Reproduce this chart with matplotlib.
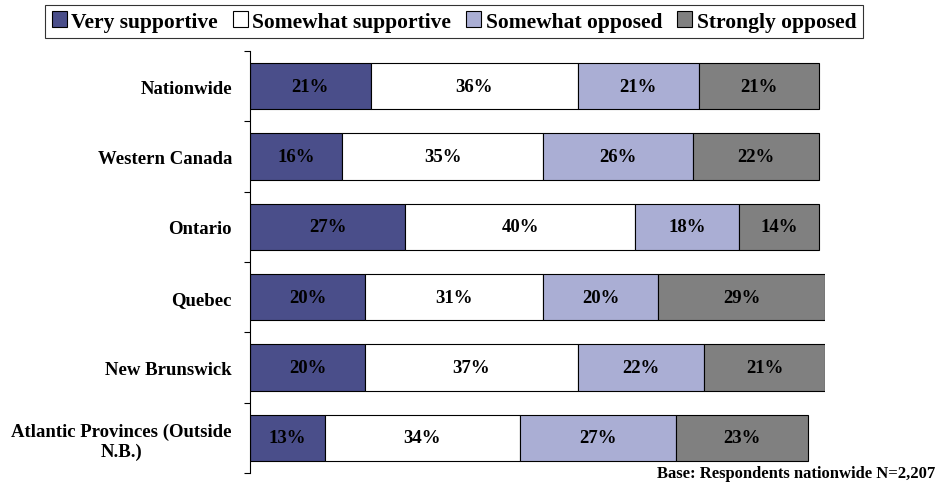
import matplotlib.pyplot as plt
import numpy as np

# regions, top to bottom
regions = ['Nationwide', 'Western Canada', 'Ontario', 'Quebec', 'New Brunswick',
           'Atlantic Provinces (Outside\nN.B.)']
series = ['Very supportive', 'Somewhat supportive', 'Somewhat opposed', 'Strongly opposed']
very_sup = [21, 16, 27, 20, 20, 13]
some_sup = [36, 35, 40, 31, 37, 34]
some_opp = [21, 26, 18, 20, 22, 27]
strong_opp = [21, 22, 14, 29, 21, 23]
colors = ['#4a4e8a', '#ffffff', '#aaaed4', '#808080']

plt.rcParams['font.family'] = ['Liberation Serif', 'DejaVu Serif']
plt.rcParams['font.weight'] = 'bold'

fig = plt.figure(figsize=(9.37, 4.85), dpi=100)
ax = fig.add_axes([250 / 937, 1 - 474 / 485, 575 / 937, 422 / 485])

y = np.arange(len(regions))
left = np.zeros(len(regions))
for name, vals, c in zip(series, [very_sup, some_sup, some_opp, strong_opp], colors):
    vals = np.array(vals)
    ax.barh(y, vals, left=left, height=0.66, color=c, edgecolor='black',
            linewidth=0.8, label=name)
    for yi, l, v in zip(y, left, vals):
        ax.text(l + v / 2, yi, f'{v}%', ha='center', va='center', fontsize=13.5,
                fontweight='bold', color='black')
    left += vals

ax.set_xlim(0, 100)
ax.set_ylim(len(regions) - 0.5, -0.5)
ax.set_xticks([])
ax.set_yticks(y)
ax.set_yticklabels(regions, fontsize=13.5, fontweight='bold', ha='right',
                   multialignment='center')
ax.tick_params(axis='y', which='major', length=0, pad=13)
ax.set_yticks(np.arange(-0.5, len(regions)), minor=True)
ax.tick_params(axis='y', which='minor', length=4, width=0.8)
for s in ['top', 'right', 'bottom']:
    ax.spines[s].set_visible(False)
ax.spines['left'].set_linewidth(0.8)

leg = fig.legend(loc='upper center', bbox_to_anchor=(454 / 937, 1 - 6 / 485), ncol=4,
                 fontsize=15.5, frameon=True, fancybox=False, edgecolor='black',
                 handlelength=0.7, handleheight=0.7, handletextpad=0.2,
                 columnspacing=0.7, borderpad=0.3, borderaxespad=0)
leg.get_frame().set_linewidth(0.8)

fig.text(935 / 937, 1 - 474 / 485, 'Base: Respondents nationwide N=2,207', ha='right',
         va='center', fontsize=12, fontweight='bold')

fig.savefig('out.png', dpi=100)
